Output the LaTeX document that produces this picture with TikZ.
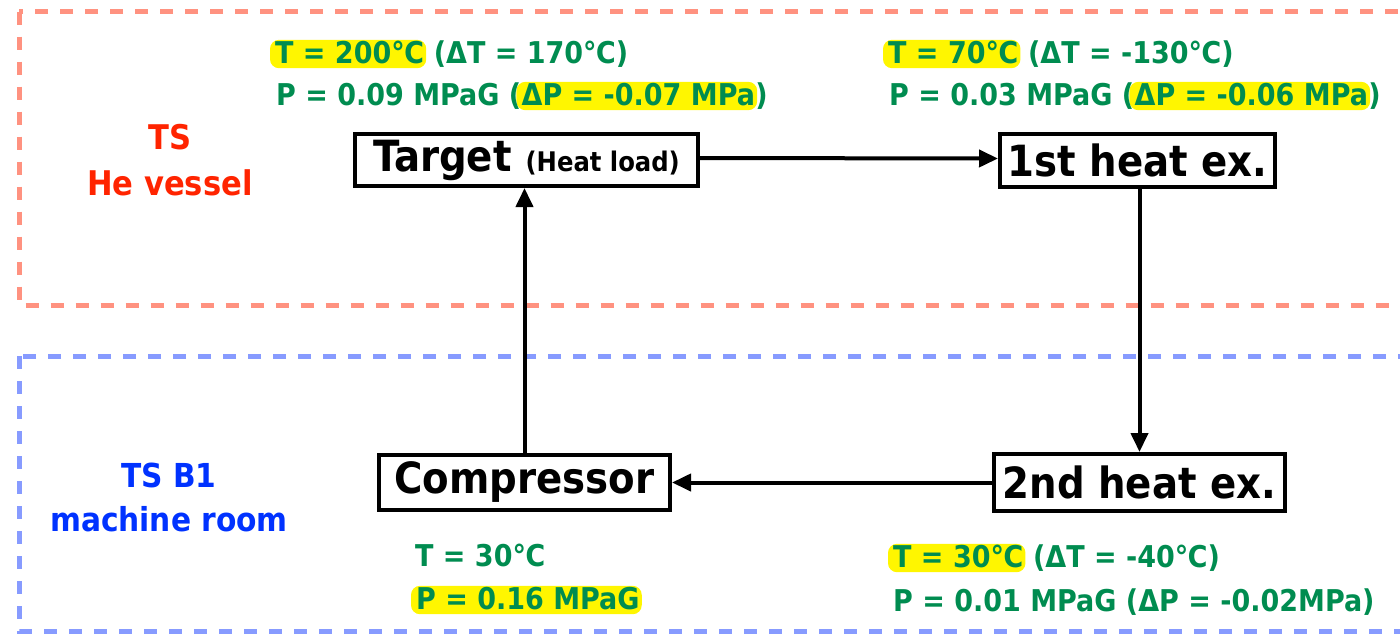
\documentclass[tikz,border=0pt]{standalone}
\usepackage{fontspec}
\setmainfont{DejaVu Sans Condensed}[BoldFont={DejaVu Sans Condensed Bold}]
\usetikzlibrary{arrows.meta,backgrounds}

\definecolor{valgreen}{RGB}{0,140,80}
\definecolor{hlyellow}{RGB}{255,246,0}
\definecolor{zonered}{RGB}{255,146,128}
\definecolor{zoneblue}{RGB}{135,155,255}
\definecolor{labred}{RGB}{255,36,0}
\definecolor{labblue}{RGB}{0,50,255}

\begin{document}
\begin{tikzpicture}[x=1pt,y=-1pt,
  unit/.style={draw=black,line width=4pt,fill=white,inner sep=0pt,
    font=\fontsize{43}{50}\selectfont\bfseries},
  flow/.style={line width=4pt,-{Triangle[length=19pt,width=17pt]}},
  zone/.style={line width=5pt,dash pattern=on 13pt off 12pt},
  zonelabel/.style={align=center},
  val/.style={text=valgreen,font=\fontsize{30}{36}\selectfont\bfseries,inner sep=0pt,
    anchor=base west,text height=22pt,text depth=4pt},
  hl/.style={fill=hlyellow,rounded corners=9pt}]
\useasboundingbox (0,0) rectangle (1400,633);
\clip (0,0) rectangle (1400,633);

% zones
\draw[zone,zonered] (19,11.5) rectangle (1440,305);
\draw[zone,zoneblue] (19,356) rectangle (1440,631);

\node[zonelabel,text=labred,font=\fontsize{34}{46}\selectfont\bfseries] (zoneTS) at (170,160) {TS\\He vessel};
\node[zonelabel,text=labblue,font=\fontsize{33}{44}\selectfont\bfseries] (zoneB1) at (169,497) {TS B1\\machine room};

% components
\node[unit,minimum width=343pt,minimum height=52pt] (target) at (526.5,160)
  {Target\hspace{14pt}{\fontsize{27}{32}\selectfont(Heat load)}};
\node[unit,minimum width=275pt,minimum height=53pt] (hx1) at (1137.5,160.5) {1st heat ex.};
\node[unit,minimum width=291pt,minimum height=55pt] (comp) at (524.5,482.5) {Compressor};
\node[unit,minimum width=291pt,minimum height=57pt] (hx2) at (1139.5,482.5) {2nd heat ex.};

% helium loop
\draw[flow] ([yshift=2pt]target.east) -- ([yshift=2pt]hx1.west);
\draw[flow] (hx1.south -| hx2.north) -- (hx2.north);
\draw[flow] (hx2.west) -- (comp.east);
\draw[flow] (comp.north) -- (comp.north |- target.south);

% conditions at the target outlet
\node[val] (tl1a) at (275,63) {T = 200℃};
\node[val] (tl1b) at (tl1a.base east) {\ (ΔT = 170℃)};
\node[val] (tl2a) at (276,105) {P = 0.09 MPaG (};
\node[val] (tl2b) at (tl2a.base east) {ΔP = -0.07 MPa};
\node[val] (tl2c) at (tl2b.base east) {)};

% conditions after the 1st heat exchanger
\node[val] (tr1a) at (888,63) {T = 70℃};
\node[val] (tr1b) at (tr1a.base east) {\ (ΔT = -130℃)};
\node[val] (tr2a) at (889,105) {P = 0.03 MPaG (};
\node[val] (tr2b) at (tr2a.base east) {ΔP = -0.06 MPa};
\node[val] (tr2c) at (tr2b.base east) {)};

% conditions at the compressor outlet
\node[val] (bl1) at (415,566) {T = 30℃};
\node[val] (bl2) at (416,609) {P = 0.16 MPaG};

% conditions after the 2nd heat exchanger
\node[val] (br1a) at (893,567) {T = 30℃};
\node[val] (br1b) at (br1a.base east) {\ (ΔT = -40℃)};
\node[val] (br2) at (893,611) {P = 0.01 MPaG (ΔP = -0.02MPa)};

% marker highlights
\begin{scope}[on background layer]
  \foreach \n in {tl1a,tl2b,tr1a,tr2b,bl2,br1a}
    \fill[hl] ([xshift=-5pt,yshift=-1pt]\n.south west) rectangle ([xshift=2pt,yshift=1pt]\n.north east);
\end{scope}
\end{tikzpicture}
\end{document}
